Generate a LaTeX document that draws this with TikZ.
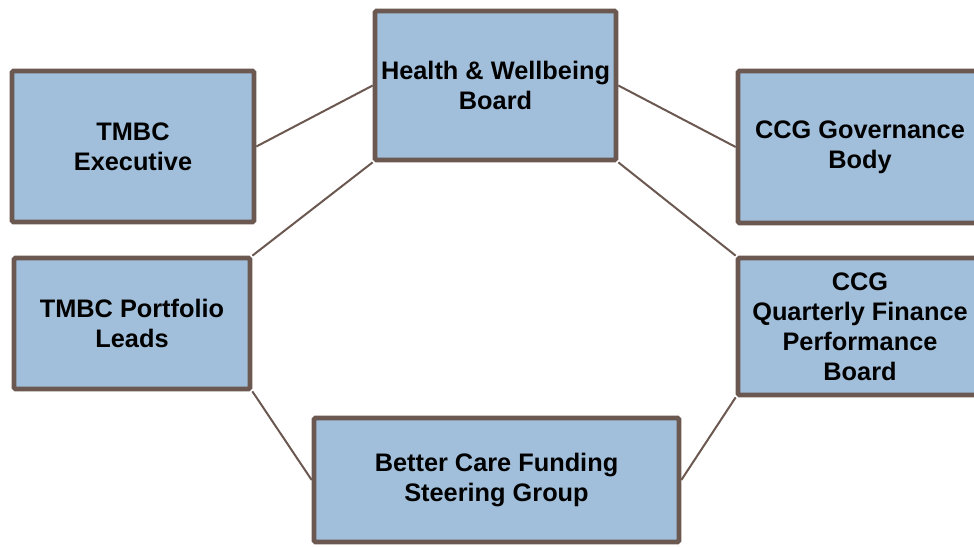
\documentclass[tikz,border=0pt]{standalone}
\usepackage{fontspec}
\setmainfont{Liberation Sans}
\definecolor{boxfill}{RGB}{161,191,218}
\definecolor{boxline}{RGB}{107,88,80}
\begin{document}
\begin{tikzpicture}[x=0.75pt, y=-0.75pt,
    board/.style={draw=boxline, line width=3.5pt, fill=boxfill, align=center,
        rounded corners=1pt, inner sep=2pt, font=\fontsize{19}{22.5}\selectfont\bfseries},
    link/.style={draw=boxline, line width=1.5pt}]
    \useasboundingbox (0,0) rectangle (974,546);

    % Central board
    \node[board, minimum width=180.75pt, minimum height=111.75pt] (hwb) at (495.5,85.5) {Health \& Wellbeing\\Board};

    % Left side
    \node[board, minimum width=181.5pt, minimum height=113.25pt] (exec) at (133,146.5) {TMBC\\Executive};
    \node[board, minimum width=177pt, minimum height=98.25pt] (port) at (132,323.5) {TMBC Portfolio\\Leads};

    % Right side (runs past the page edge)
    \node[board, minimum width=183pt, minimum height=114pt] (gov) at (860,147) {CCG Governance\\Body};
    \node[board, minimum width=183pt, minimum height=102.75pt] (qfpb) at (860,326.5) {CCG\\Quarterly Finance\\Performance\\Board};

    % Bottom
    \node[board, minimum width=273.75pt, minimum height=93pt] (bcf) at (496.5,480) {Better Care Funding\\Steering Group};

    % Connectors
    \draw[link] (exec.east) -- (hwb.west);
    \draw[link] (hwb.south west) -- (port.north east);
    \draw[link] (port.south east) -- (bcf.west);
    \draw[link] (hwb.east) -- (gov.west);
    \draw[link] (hwb.south east) -- (qfpb.north west);
    \draw[link] (qfpb.south west) -- (bcf.east);
\end{tikzpicture}
\end{document}
